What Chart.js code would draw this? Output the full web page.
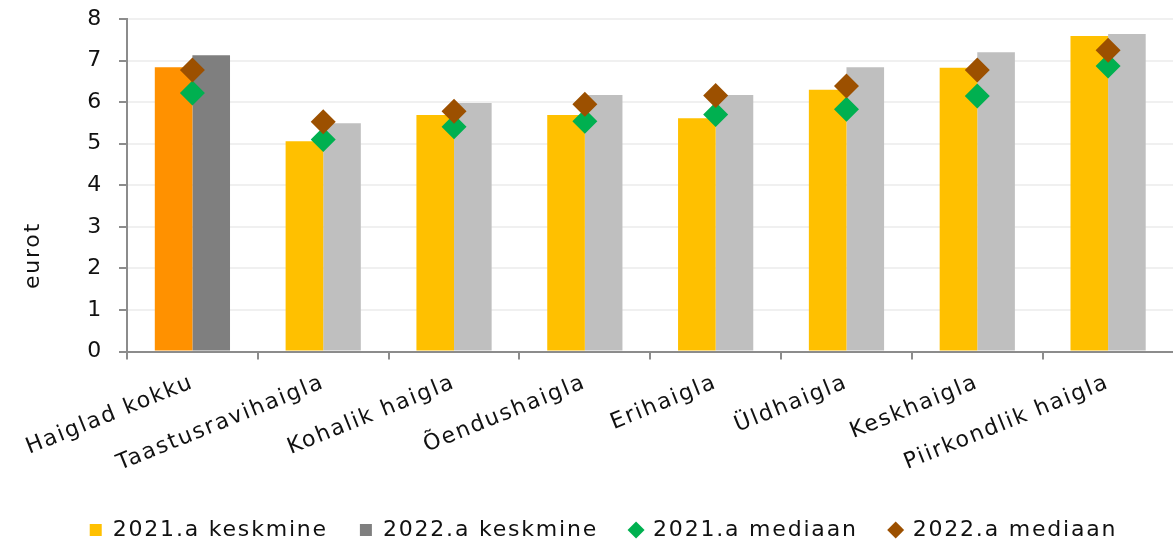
<!DOCTYPE html>
<html>
<head>
<meta charset="utf-8">
<script src="https://cdn.jsdelivr.net/npm/chart.js@4"></script>
<style>
  html, body { margin: 0; padding: 0; background: #fff; overflow: hidden; }
  #wrap { width: 1186px; height: 544px; }
</style>
</head>
<body>
<div id="wrap"><canvas id="myChart"></canvas></div>
<script>
const categories = ['Haiglad kokku', 'Taastusravihaigla', 'Kohalik haigla', 'Õendushaigla', 'Erihaigla', 'Üldhaigla', 'Keskhaigla', 'Piirkondlik haigla'];
const mean2021 = [6.84, 5.06, 5.69, 5.69, 5.61, 6.30, 6.83, 7.59];
const mean2022 = [7.13, 5.49, 5.98, 6.17, 6.17, 6.84, 7.20, 7.64];
const median2021 = [6.22, 5.10, 5.41, 5.54, 5.70, 5.83, 6.15, 6.87];
const median2022 = [6.77, 5.53, 5.78, 5.95, 6.16, 6.39, 6.77, 7.25];
const yTicks = [0, 1, 2, 3, 4, 5, 6, 7, 8];

var orange = '#ff9100';
var yellow = '#ffc000';
var darkGray = '#7f7f7f';
var lightGray = '#bfbfbf';
var green = '#00b050';
var brown = '#9c5000';
var axisGray = '#8c8c8c';
var font = { family: 'DejaVu Sans', size: 22 };

Chart.defaults.font.family = 'DejaVu Sans';
Chart.defaults.color = '#111';

// wider letters, closer to the original font
const spacing = {
  id: 'spacing',
  beforeLayout(chart) { chart.ctx.letterSpacing = '1.8px'; },
  beforeDraw(chart) { chart.ctx.letterSpacing = '1.8px'; }
};

// y title sits lower than the axis middle in the original
const yTitle = {
  id: 'yTitle',
  afterDraw(chart) {
    const {ctx, chartArea} = chart;
    ctx.save();
    ctx.font = '22px "DejaVu Sans"';
    ctx.fillStyle = '#111';
    ctx.textAlign = 'center';
    ctx.textBaseline = 'middle';
    ctx.translate(chartArea.left - 94, chartArea.bottom - 96);
    ctx.rotate(-Math.PI / 2);
    ctx.fillText('eurot', 0, 0);
    ctx.restore();
  }
};

const data = {
  labels: categories,
  datasets: [
    {
      label: '2021.a keskmine',
      data: mean2021,
      backgroundColor: mean2021.map((v, i) => i === 0 ? orange : yellow),
      borderWidth: 0,
      order: 2,
    },
    {
      label: '2022.a keskmine',
      data: mean2022,
      backgroundColor: mean2022.map((v, i) => i === 0 ? darkGray : lightGray),
      borderWidth: 0,
      order: 2,
    },
    {
      type: 'line',
      label: '2021.a mediaan',
      data: median2021,
      showLine: false,
      pointStyle: 'rectRot',
      pointRadius: 12.5,
      pointHoverRadius: 12.5,
      pointBorderWidth: 0,
      backgroundColor: green,
      borderColor: green,
      order: 1,
    },
    {
      type: 'line',
      label: '2022.a mediaan',
      data: median2022,
      showLine: false,
      pointStyle: 'rectRot',
      pointRadius: 12.5,
      pointHoverRadius: 12.5,
      pointBorderWidth: 0,
      backgroundColor: brown,
      borderColor: brown,
      order: 0,
    },
  ],
};

const legendFills = [yellow, darkGray, green, brown];
const legendStyles = ['rect', 'rect', 'rectRot', 'rectRot'];

const config = {
  type: 'bar',
  data: data,
  plugins: [spacing, yTitle],
  options: {
    animation: false,
    responsive: true,
    maintainAspectRatio: false,
    categoryPercentage: 0.575,
    barPercentage: 1,
    layout: {
      padding: { left: 21, right: 0, top: 19, bottom: -7 }
    },
    plugins: {
      tooltip: { enabled: false },
      legend: {
        position: 'bottom',
        labels: {
          font: font,
          color: '#111',
          usePointStyle: true,
          boxWidth: 12,
          boxHeight: 12,
          padding: 32,
          generateLabels(chart) {
            const items = Chart.defaults.plugins.legend.labels.generateLabels(chart);
            items.sort((a, b) => a.datasetIndex - b.datasetIndex);
            items.forEach(it => {
              const i = it.datasetIndex;
              it.fillStyle = legendFills[i];
              it.strokeStyle = legendFills[i];
              it.lineWidth = 0;
              it.pointStyle = legendStyles[i];
            });
            return items;
          }
        }
      }
    },
    scales: {
      x: {
        afterFit(scale) { scale.paddingRight = 0; },
        grid: {
          display: true,
          drawOnChartArea: false,
          offset: true,
          color: axisGray,
          tickLength: 8,
          lineWidth: 2,
        },
        border: { color: axisGray, width: 2 },
        ticks: {
          font: font,
          color: '#111',
          autoSkip: false,
          minRotation: 22,
          maxRotation: 22,
          padding: 10,
        },
      },
      y: {
        min: 0,
        max: 8,
        afterBuildTicks(scale) { scale.ticks = yTicks.map(v => ({ value: v })); },
        afterFit(scale) { scale.width = 106; scale.paddingTop = 0; },
        grid: {
          color: '#f0f0f0',
          lineWidth: 2,
          tickColor: axisGray,
          tickWidth: 2,
          tickLength: 8,
        },
        border: { color: axisGray, width: 2 },
        ticks: {
          font: font,
          color: '#111',
          padding: 16,
        },
      },
    },
  },
};

var myChart = new Chart(document.getElementById('myChart'), config);
</script>
</body>
</html>
